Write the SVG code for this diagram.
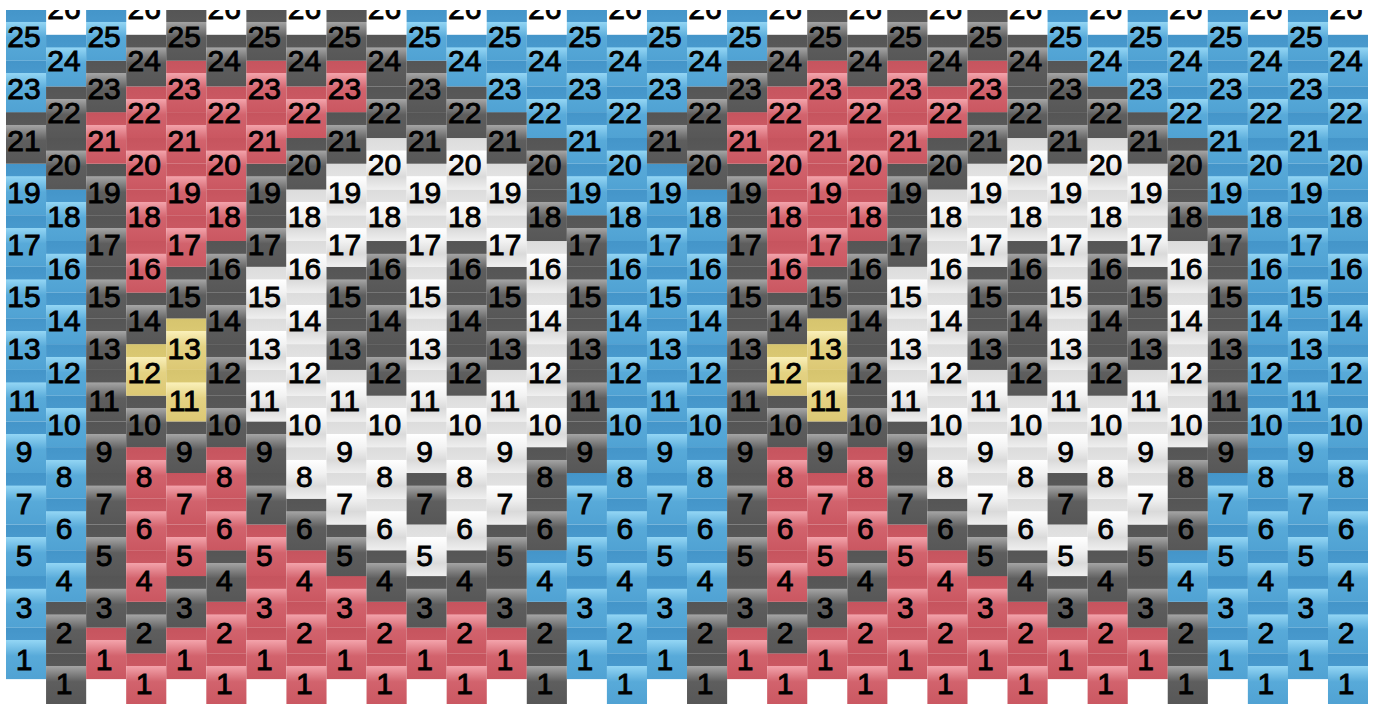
<svg xmlns="http://www.w3.org/2000/svg" width="1381" height="704" viewBox="0 0 1381 704">
<style>
rect.b,rect.d,rect.r,rect.w,rect.y{width:40.12px;height:51.62px}
.b{fill:url(#gB)}.d{fill:url(#gD)}.r{fill:url(#gR)}.w{fill:url(#gW)}.y{fill:url(#gY)}
text{font-family:"Liberation Sans",Arial,sans-serif;font-size:30px;fill:#000;stroke:#000;stroke-width:0.9px;text-anchor:middle}
</style>
<defs>
<linearGradient id="gB" x1="0" y1="0" x2="0" y2="1"><stop offset="0" stop-color="#4495c9"/><stop offset="0.24" stop-color="#4899cd"/><stop offset="0.25" stop-color="#92d5f4"/><stop offset="0.55" stop-color="#58aad9"/><stop offset="1" stop-color="#50a2d3"/></linearGradient>
<linearGradient id="gD" x1="0" y1="0" x2="0" y2="1"><stop offset="0" stop-color="#555555"/><stop offset="0.24" stop-color="#585858"/><stop offset="0.25" stop-color="#a4a4a4"/><stop offset="0.55" stop-color="#5e5e5e"/><stop offset="1" stop-color="#575757"/></linearGradient>
<linearGradient id="gR" x1="0" y1="0" x2="0" y2="1"><stop offset="0" stop-color="#c6545e"/><stop offset="0.24" stop-color="#ca5862"/><stop offset="0.25" stop-color="#f3a2aa"/><stop offset="0.55" stop-color="#d2636d"/><stop offset="1" stop-color="#ca5761"/></linearGradient>
<linearGradient id="gW" x1="0" y1="0" x2="0" y2="1"><stop offset="0" stop-color="#dcdcdc"/><stop offset="0.24" stop-color="#e2e2e2"/><stop offset="0.25" stop-color="#ffffff"/><stop offset="0.5" stop-color="#f2f2f2"/><stop offset="0.75" stop-color="#dadada"/><stop offset="1" stop-color="#efefef"/></linearGradient>
<linearGradient id="gY" x1="0" y1="0" x2="0" y2="1"><stop offset="0" stop-color="#d6c46e"/><stop offset="0.24" stop-color="#dac872"/><stop offset="0.25" stop-color="#faf0b9"/><stop offset="0.55" stop-color="#e4d283"/><stop offset="1" stop-color="#dcc874"/></linearGradient>
<clipPath id="clip"><rect x="6" y="10" width="1362.04" height="694"/></clipPath>
</defs>
<rect x="0" y="0" width="1381" height="704" fill="#ffffff"/>
<g clip-path="url(#clip)">
<g id="beads">
<g id="half">
<g id="c0" transform="translate(6)"><rect class="b" y="627.5"/><rect class="b" y="576"/><rect class="b" y="524.5"/><rect class="b" y="472.9"/><rect class="b" y="421.4"/><rect class="b" y="369.8"/><rect class="b" y="318.3"/><rect class="b" y="266.8"/><rect class="b" y="215.2"/><rect class="b" y="163.7"/><rect class="d" y="112.1"/><rect class="b" y="60.6"/><rect class="b" y="9.1"/></g>
<g id="c1" transform="translate(46.06)"><rect class="d" y="653.3"/><rect class="d" y="601.8"/><rect class="b" y="550.2"/><rect class="b" y="498.7"/><rect class="b" y="447.1"/><rect class="b" y="395.6"/><rect class="b" y="344.1"/><rect class="b" y="292.5"/><rect class="b" y="241"/><rect class="b" y="189.4"/><rect class="d" y="137.9"/><rect class="d" y="86.4"/><rect class="b" y="34.8"/></g>
<g id="c2" transform="translate(86.12)"><rect class="r" y="627.5"/><rect class="d" y="576"/><rect class="d" y="524.5"/><rect class="d" y="472.9"/><rect class="d" y="421.4"/><rect class="d" y="369.8"/><rect class="d" y="318.3"/><rect class="d" y="266.8"/><rect class="d" y="215.2"/><rect class="d" y="163.7"/><rect class="r" y="112.1"/><rect class="d" y="60.6"/><rect class="b" y="9.1"/></g>
<g id="c3" transform="translate(126.18)"><rect class="r" y="653.3"/><rect class="d" y="601.8"/><rect class="r" y="550.2"/><rect class="r" y="498.7"/><rect class="r" y="447.1"/><rect class="d" y="395.6"/><rect class="y" y="344.1"/><rect class="d" y="292.5"/><rect class="r" y="241"/><rect class="r" y="189.4"/><rect class="r" y="137.9"/><rect class="r" y="86.4"/><rect class="d" y="34.8"/></g>
<g id="c4" transform="translate(166.24)"><rect class="r" y="627.5"/><rect class="d" y="576"/><rect class="r" y="524.5"/><rect class="r" y="472.9"/><rect class="d" y="421.4"/><rect class="y" y="369.8"/><rect class="y" y="318.3"/><rect class="d" y="266.8"/><rect class="r" y="215.2"/><rect class="r" y="163.7"/><rect class="r" y="112.1"/><rect class="r" y="60.6"/><rect class="d" y="9.1"/></g>
<g id="c5" transform="translate(206.3)"><rect class="r" y="653.3"/><rect class="r" y="601.8"/><rect class="d" y="550.2"/><rect class="r" y="498.7"/><rect class="r" y="447.1"/><rect class="d" y="395.6"/><rect class="d" y="344.1"/><rect class="d" y="292.5"/><rect class="d" y="241"/><rect class="r" y="189.4"/><rect class="r" y="137.9"/><rect class="r" y="86.4"/><rect class="d" y="34.8"/></g>
<g id="c6" transform="translate(246.36)"><rect class="r" y="627.5"/><rect class="r" y="576"/><rect class="r" y="524.5"/><rect class="d" y="472.9"/><rect class="d" y="421.4"/><rect class="w" y="369.8"/><rect class="w" y="318.3"/><rect class="w" y="266.8"/><rect class="d" y="215.2"/><rect class="d" y="163.7"/><rect class="r" y="112.1"/><rect class="r" y="60.6"/><rect class="d" y="9.1"/></g>
<g id="c7" transform="translate(286.42)"><rect class="r" y="653.3"/><rect class="r" y="601.8"/><rect class="r" y="550.2"/><rect class="d" y="498.7"/><rect class="w" y="447.1"/><rect class="w" y="395.6"/><rect class="w" y="344.1"/><rect class="w" y="292.5"/><rect class="w" y="241"/><rect class="w" y="189.4"/><rect class="d" y="137.9"/><rect class="r" y="86.4"/><rect class="d" y="34.8"/></g>
<g id="c8" transform="translate(326.48)"><rect class="r" y="627.5"/><rect class="r" y="576"/><rect class="d" y="524.5"/><rect class="w" y="472.9"/><rect class="w" y="421.4"/><rect class="w" y="369.8"/><rect class="d" y="318.3"/><rect class="d" y="266.8"/><rect class="w" y="215.2"/><rect class="w" y="163.7"/><rect class="d" y="112.1"/><rect class="r" y="60.6"/><rect class="d" y="9.1"/></g>
<g id="c9" transform="translate(366.54)"><rect class="r" y="653.3"/><rect class="r" y="601.8"/><rect class="d" y="550.2"/><rect class="w" y="498.7"/><rect class="w" y="447.1"/><rect class="w" y="395.6"/><rect class="d" y="344.1"/><rect class="d" y="292.5"/><rect class="d" y="241"/><rect class="w" y="189.4"/><rect class="w" y="137.9"/><rect class="d" y="86.4"/><rect class="d" y="34.8"/></g>
<g id="c10" transform="translate(406.6)"><rect class="r" y="627.5"/><rect class="d" y="576"/><rect class="w" y="524.5"/><rect class="d" y="472.9"/><rect class="w" y="421.4"/><rect class="w" y="369.8"/><rect class="w" y="318.3"/><rect class="w" y="266.8"/><rect class="w" y="215.2"/><rect class="w" y="163.7"/><rect class="d" y="112.1"/><rect class="d" y="60.6"/><rect class="b" y="9.1"/></g>
<g id="c11" transform="translate(446.66)"><rect class="r" y="653.3"/><rect class="r" y="601.8"/><rect class="d" y="550.2"/><rect class="w" y="498.7"/><rect class="w" y="447.1"/><rect class="w" y="395.6"/><rect class="d" y="344.1"/><rect class="d" y="292.5"/><rect class="d" y="241"/><rect class="w" y="189.4"/><rect class="w" y="137.9"/><rect class="d" y="86.4"/><rect class="b" y="34.8"/></g>
<g id="c12" transform="translate(486.72)"><rect class="r" y="627.5"/><rect class="d" y="576"/><rect class="d" y="524.5"/><rect class="w" y="472.9"/><rect class="w" y="421.4"/><rect class="w" y="369.8"/><rect class="d" y="318.3"/><rect class="d" y="266.8"/><rect class="w" y="215.2"/><rect class="w" y="163.7"/><rect class="d" y="112.1"/><rect class="b" y="60.6"/><rect class="b" y="9.1"/></g>
<g id="c13" transform="translate(526.78)"><rect class="d" y="653.3"/><rect class="d" y="601.8"/><rect class="b" y="550.2"/><rect class="d" y="498.7"/><rect class="d" y="447.1"/><rect class="w" y="395.6"/><rect class="w" y="344.1"/><rect class="w" y="292.5"/><rect class="w" y="241"/><rect class="d" y="189.4"/><rect class="d" y="137.9"/><rect class="b" y="86.4"/><rect class="b" y="34.8"/></g>
<g id="c14" transform="translate(566.84)"><rect class="b" y="627.5"/><rect class="b" y="576"/><rect class="b" y="524.5"/><rect class="b" y="472.9"/><rect class="d" y="421.4"/><rect class="d" y="369.8"/><rect class="d" y="318.3"/><rect class="d" y="266.8"/><rect class="d" y="215.2"/><rect class="b" y="163.7"/><rect class="b" y="112.1"/><rect class="b" y="60.6"/><rect class="b" y="9.1"/></g>
<g id="c15" transform="translate(606.9)"><rect class="b" y="653.3"/><rect class="b" y="601.8"/><rect class="b" y="550.2"/><rect class="b" y="498.7"/><rect class="b" y="447.1"/><rect class="b" y="395.6"/><rect class="b" y="344.1"/><rect class="b" y="292.5"/><rect class="b" y="241"/><rect class="b" y="189.4"/><rect class="b" y="137.9"/><rect class="b" y="86.4"/><rect class="b" y="34.8"/></g>
</g>
<use href="#half" x="640.96"/>
<g id="c32" transform="translate(1287.92)"><rect class="b" y="627.5"/><rect class="b" y="576"/><rect class="b" y="524.5"/><rect class="b" y="472.9"/><rect class="b" y="421.4"/><rect class="b" y="369.8"/><rect class="b" y="318.3"/><rect class="b" y="266.8"/><rect class="b" y="215.2"/><rect class="b" y="163.7"/><rect class="b" y="112.1"/><rect class="b" y="60.6"/><rect class="b" y="9.1"/></g>
<g id="c33" transform="translate(1327.98)"><rect class="b" y="653.3"/><rect class="b" y="601.8"/><rect class="b" y="550.2"/><rect class="b" y="498.7"/><rect class="b" y="447.1"/><rect class="b" y="395.6"/><rect class="b" y="344.1"/><rect class="b" y="292.5"/><rect class="b" y="241"/><rect class="b" y="189.4"/><rect class="b" y="137.9"/><rect class="b" y="86.4"/><rect class="b" y="34.8"/></g>
</g>
<g id="labels" transform="translate(0,0.8)">
<g id="l0" transform="translate(24)"><text y="669.3">1</text><text y="617.4">3</text><text y="565.5">5</text><text y="513.6">7</text><text y="461.7">9</text><text y="409.8">11</text><text y="357.9">13</text><text y="306">15</text><text y="254.1">17</text><text y="202.2">19</text><text y="150.3">21</text><text y="98.4">23</text><text y="46.5">25</text></g>
<g id="l1" transform="translate(64.06)"><text y="693">1</text><text y="642">2</text><text y="590">4</text><text y="538">6</text><text y="486">8</text><text y="434">10</text><text y="382">12</text><text y="330">14</text><text y="278">16</text><text y="226">18</text><text y="174">20</text><text y="122">22</text><text y="70">24</text><text y="18">26</text></g>
<g id="l2" transform="translate(104.12)"><text y="669.3">1</text><text y="617.4">3</text><text y="565.5">5</text><text y="513.6">7</text><text y="461.7">9</text><text y="409.8">11</text><text y="357.9">13</text><text y="306">15</text><text y="254.1">17</text><text y="202.2">19</text><text y="150.3">21</text><text y="98.4">23</text><text y="46.5">25</text></g>
<g id="l3" transform="translate(144.18)"><text y="693">1</text><text y="642">2</text><text y="590">4</text><text y="538">6</text><text y="486">8</text><text y="434">10</text><text y="382">12</text><text y="330">14</text><text y="278">16</text><text y="226">18</text><text y="174">20</text><text y="122">22</text><text y="70">24</text><text y="18">26</text></g>
<g id="l4" transform="translate(184.24)"><text y="669.3">1</text><text y="617.4">3</text><text y="565.5">5</text><text y="513.6">7</text><text y="461.7">9</text><text y="409.8">11</text><text y="357.9">13</text><text y="306">15</text><text y="254.1">17</text><text y="202.2">19</text><text y="150.3">21</text><text y="98.4">23</text><text y="46.5">25</text></g>
<g id="l5" transform="translate(224.3)"><text y="693">1</text><text y="642">2</text><text y="590">4</text><text y="538">6</text><text y="486">8</text><text y="434">10</text><text y="382">12</text><text y="330">14</text><text y="278">16</text><text y="226">18</text><text y="174">20</text><text y="122">22</text><text y="70">24</text><text y="18">26</text></g>
<g id="l6" transform="translate(264.36)"><text y="669.3">1</text><text y="617.4">3</text><text y="565.5">5</text><text y="513.6">7</text><text y="461.7">9</text><text y="409.8">11</text><text y="357.9">13</text><text y="306">15</text><text y="254.1">17</text><text y="202.2">19</text><text y="150.3">21</text><text y="98.4">23</text><text y="46.5">25</text></g>
<g id="l7" transform="translate(304.42)"><text y="693">1</text><text y="642">2</text><text y="590">4</text><text y="538">6</text><text y="486">8</text><text y="434">10</text><text y="382">12</text><text y="330">14</text><text y="278">16</text><text y="226">18</text><text y="174">20</text><text y="122">22</text><text y="70">24</text><text y="18">26</text></g>
<g id="l8" transform="translate(344.48)"><text y="669.3">1</text><text y="617.4">3</text><text y="565.5">5</text><text y="513.6">7</text><text y="461.7">9</text><text y="409.8">11</text><text y="357.9">13</text><text y="306">15</text><text y="254.1">17</text><text y="202.2">19</text><text y="150.3">21</text><text y="98.4">23</text><text y="46.5">25</text></g>
<g id="l9" transform="translate(384.54)"><text y="693">1</text><text y="642">2</text><text y="590">4</text><text y="538">6</text><text y="486">8</text><text y="434">10</text><text y="382">12</text><text y="330">14</text><text y="278">16</text><text y="226">18</text><text y="174">20</text><text y="122">22</text><text y="70">24</text><text y="18">26</text></g>
<g id="l10" transform="translate(424.6)"><text y="669.3">1</text><text y="617.4">3</text><text y="565.5">5</text><text y="513.6">7</text><text y="461.7">9</text><text y="409.8">11</text><text y="357.9">13</text><text y="306">15</text><text y="254.1">17</text><text y="202.2">19</text><text y="150.3">21</text><text y="98.4">23</text><text y="46.5">25</text></g>
<g id="l11" transform="translate(464.66)"><text y="693">1</text><text y="642">2</text><text y="590">4</text><text y="538">6</text><text y="486">8</text><text y="434">10</text><text y="382">12</text><text y="330">14</text><text y="278">16</text><text y="226">18</text><text y="174">20</text><text y="122">22</text><text y="70">24</text><text y="18">26</text></g>
<g id="l12" transform="translate(504.72)"><text y="669.3">1</text><text y="617.4">3</text><text y="565.5">5</text><text y="513.6">7</text><text y="461.7">9</text><text y="409.8">11</text><text y="357.9">13</text><text y="306">15</text><text y="254.1">17</text><text y="202.2">19</text><text y="150.3">21</text><text y="98.4">23</text><text y="46.5">25</text></g>
<g id="l13" transform="translate(544.78)"><text y="693">1</text><text y="642">2</text><text y="590">4</text><text y="538">6</text><text y="486">8</text><text y="434">10</text><text y="382">12</text><text y="330">14</text><text y="278">16</text><text y="226">18</text><text y="174">20</text><text y="122">22</text><text y="70">24</text><text y="18">26</text></g>
<g id="l14" transform="translate(584.84)"><text y="669.3">1</text><text y="617.4">3</text><text y="565.5">5</text><text y="513.6">7</text><text y="461.7">9</text><text y="409.8">11</text><text y="357.9">13</text><text y="306">15</text><text y="254.1">17</text><text y="202.2">19</text><text y="150.3">21</text><text y="98.4">23</text><text y="46.5">25</text></g>
<g id="l15" transform="translate(624.9)"><text y="693">1</text><text y="642">2</text><text y="590">4</text><text y="538">6</text><text y="486">8</text><text y="434">10</text><text y="382">12</text><text y="330">14</text><text y="278">16</text><text y="226">18</text><text y="174">20</text><text y="122">22</text><text y="70">24</text><text y="18">26</text></g>
<g id="l16" transform="translate(664.96)"><text y="669.3">1</text><text y="617.4">3</text><text y="565.5">5</text><text y="513.6">7</text><text y="461.7">9</text><text y="409.8">11</text><text y="357.9">13</text><text y="306">15</text><text y="254.1">17</text><text y="202.2">19</text><text y="150.3">21</text><text y="98.4">23</text><text y="46.5">25</text></g>
<g id="l17" transform="translate(705.02)"><text y="693">1</text><text y="642">2</text><text y="590">4</text><text y="538">6</text><text y="486">8</text><text y="434">10</text><text y="382">12</text><text y="330">14</text><text y="278">16</text><text y="226">18</text><text y="174">20</text><text y="122">22</text><text y="70">24</text><text y="18">26</text></g>
<g id="l18" transform="translate(745.08)"><text y="669.3">1</text><text y="617.4">3</text><text y="565.5">5</text><text y="513.6">7</text><text y="461.7">9</text><text y="409.8">11</text><text y="357.9">13</text><text y="306">15</text><text y="254.1">17</text><text y="202.2">19</text><text y="150.3">21</text><text y="98.4">23</text><text y="46.5">25</text></g>
<g id="l19" transform="translate(785.14)"><text y="693">1</text><text y="642">2</text><text y="590">4</text><text y="538">6</text><text y="486">8</text><text y="434">10</text><text y="382">12</text><text y="330">14</text><text y="278">16</text><text y="226">18</text><text y="174">20</text><text y="122">22</text><text y="70">24</text><text y="18">26</text></g>
<g id="l20" transform="translate(825.2)"><text y="669.3">1</text><text y="617.4">3</text><text y="565.5">5</text><text y="513.6">7</text><text y="461.7">9</text><text y="409.8">11</text><text y="357.9">13</text><text y="306">15</text><text y="254.1">17</text><text y="202.2">19</text><text y="150.3">21</text><text y="98.4">23</text><text y="46.5">25</text></g>
<g id="l21" transform="translate(865.26)"><text y="693">1</text><text y="642">2</text><text y="590">4</text><text y="538">6</text><text y="486">8</text><text y="434">10</text><text y="382">12</text><text y="330">14</text><text y="278">16</text><text y="226">18</text><text y="174">20</text><text y="122">22</text><text y="70">24</text><text y="18">26</text></g>
<g id="l22" transform="translate(905.32)"><text y="669.3">1</text><text y="617.4">3</text><text y="565.5">5</text><text y="513.6">7</text><text y="461.7">9</text><text y="409.8">11</text><text y="357.9">13</text><text y="306">15</text><text y="254.1">17</text><text y="202.2">19</text><text y="150.3">21</text><text y="98.4">23</text><text y="46.5">25</text></g>
<g id="l23" transform="translate(945.38)"><text y="693">1</text><text y="642">2</text><text y="590">4</text><text y="538">6</text><text y="486">8</text><text y="434">10</text><text y="382">12</text><text y="330">14</text><text y="278">16</text><text y="226">18</text><text y="174">20</text><text y="122">22</text><text y="70">24</text><text y="18">26</text></g>
<g id="l24" transform="translate(985.44)"><text y="669.3">1</text><text y="617.4">3</text><text y="565.5">5</text><text y="513.6">7</text><text y="461.7">9</text><text y="409.8">11</text><text y="357.9">13</text><text y="306">15</text><text y="254.1">17</text><text y="202.2">19</text><text y="150.3">21</text><text y="98.4">23</text><text y="46.5">25</text></g>
<g id="l25" transform="translate(1025.5)"><text y="693">1</text><text y="642">2</text><text y="590">4</text><text y="538">6</text><text y="486">8</text><text y="434">10</text><text y="382">12</text><text y="330">14</text><text y="278">16</text><text y="226">18</text><text y="174">20</text><text y="122">22</text><text y="70">24</text><text y="18">26</text></g>
<g id="l26" transform="translate(1065.56)"><text y="669.3">1</text><text y="617.4">3</text><text y="565.5">5</text><text y="513.6">7</text><text y="461.7">9</text><text y="409.8">11</text><text y="357.9">13</text><text y="306">15</text><text y="254.1">17</text><text y="202.2">19</text><text y="150.3">21</text><text y="98.4">23</text><text y="46.5">25</text></g>
<g id="l27" transform="translate(1105.62)"><text y="693">1</text><text y="642">2</text><text y="590">4</text><text y="538">6</text><text y="486">8</text><text y="434">10</text><text y="382">12</text><text y="330">14</text><text y="278">16</text><text y="226">18</text><text y="174">20</text><text y="122">22</text><text y="70">24</text><text y="18">26</text></g>
<g id="l28" transform="translate(1145.68)"><text y="669.3">1</text><text y="617.4">3</text><text y="565.5">5</text><text y="513.6">7</text><text y="461.7">9</text><text y="409.8">11</text><text y="357.9">13</text><text y="306">15</text><text y="254.1">17</text><text y="202.2">19</text><text y="150.3">21</text><text y="98.4">23</text><text y="46.5">25</text></g>
<g id="l29" transform="translate(1185.74)"><text y="693">1</text><text y="642">2</text><text y="590">4</text><text y="538">6</text><text y="486">8</text><text y="434">10</text><text y="382">12</text><text y="330">14</text><text y="278">16</text><text y="226">18</text><text y="174">20</text><text y="122">22</text><text y="70">24</text><text y="18">26</text></g>
<g id="l30" transform="translate(1225.8)"><text y="669.3">1</text><text y="617.4">3</text><text y="565.5">5</text><text y="513.6">7</text><text y="461.7">9</text><text y="409.8">11</text><text y="357.9">13</text><text y="306">15</text><text y="254.1">17</text><text y="202.2">19</text><text y="150.3">21</text><text y="98.4">23</text><text y="46.5">25</text></g>
<g id="l31" transform="translate(1265.86)"><text y="693">1</text><text y="642">2</text><text y="590">4</text><text y="538">6</text><text y="486">8</text><text y="434">10</text><text y="382">12</text><text y="330">14</text><text y="278">16</text><text y="226">18</text><text y="174">20</text><text y="122">22</text><text y="70">24</text><text y="18">26</text></g>
<g id="l32" transform="translate(1305.92)"><text y="669.3">1</text><text y="617.4">3</text><text y="565.5">5</text><text y="513.6">7</text><text y="461.7">9</text><text y="409.8">11</text><text y="357.9">13</text><text y="306">15</text><text y="254.1">17</text><text y="202.2">19</text><text y="150.3">21</text><text y="98.4">23</text><text y="46.5">25</text></g>
<g id="l33" transform="translate(1345.98)"><text y="693">1</text><text y="642">2</text><text y="590">4</text><text y="538">6</text><text y="486">8</text><text y="434">10</text><text y="382">12</text><text y="330">14</text><text y="278">16</text><text y="226">18</text><text y="174">20</text><text y="122">22</text><text y="70">24</text><text y="18">26</text></g>
</g>
</g>
</svg>
